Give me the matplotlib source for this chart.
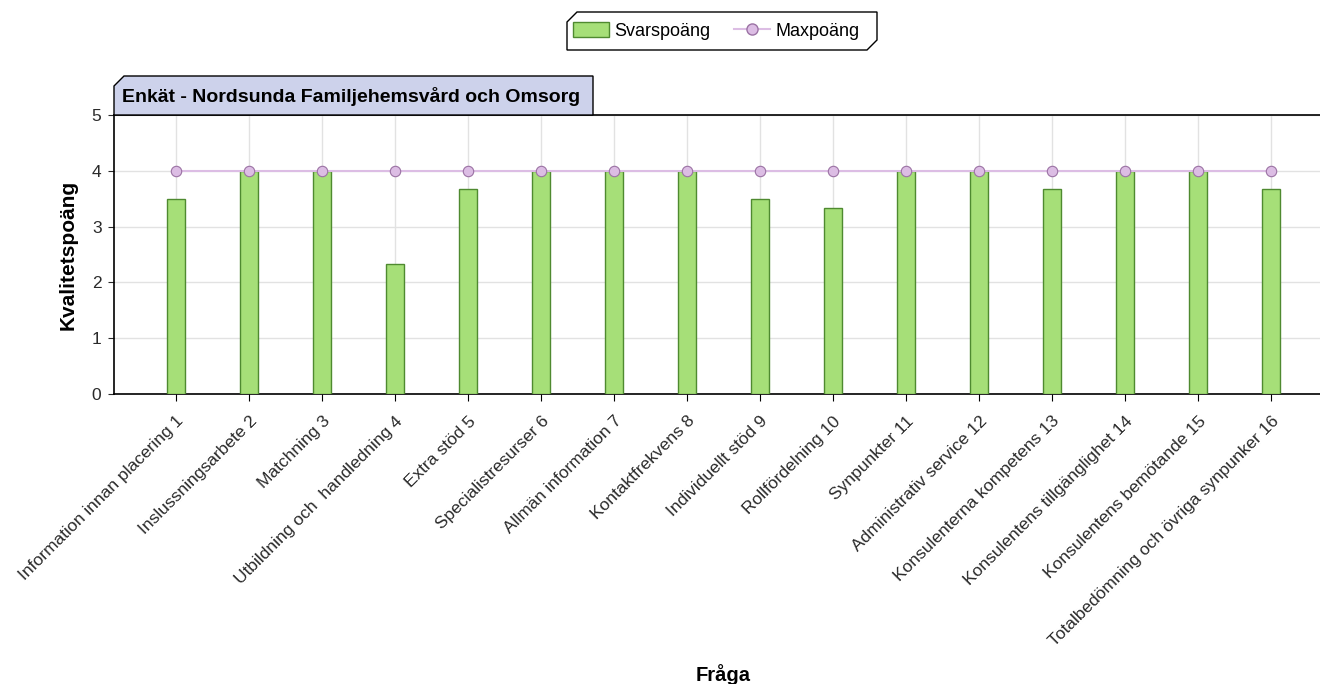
import matplotlib
matplotlib.use("Agg")
import matplotlib.pyplot as plt
from matplotlib.patches import Polygon
from matplotlib.lines import Line2D
from matplotlib.patches import Patch

QUESTIONS = [
    "Information innan placering 1",
    "Inslussningsarbete 2",
    "Matchning 3",
    "Utbildning och  handledning 4",
    "Extra stöd 5",
    "Specialistresurser 6",
    "Allmän information 7",
    "Kontaktfrekvens 8",
    "Individuellt stöd 9",
    "Rollfördelning 10",
    "Synpunkter 11",
    "Administrativ service 12",
    "Konsulenterna kompetens 13",
    "Konsulentens tillgänglighet 14",
    "Konsulentens bemötande 15",
    "Totalbedömning och övriga synpunker 16",
]
SVARSPOANG = [3.5, 4.0, 4.0, 2.33, 3.67, 4.0, 4.0, 4.0, 3.5, 3.33, 4.0, 4.0, 3.67, 4.0, 4.0, 3.67]
MAXPOANG = [4] * 16
Y_TICKS = [0, 1, 2, 3, 4, 5]

W, H = 1320, 684
BAR_FACE = "#a6df78"
BAR_EDGE = "#4f8a30"
LINE_COLOR = "#dcbde4"
MARKER_EDGE = "#9b72a4"

plt.rcParams["font.family"] = ["Liberation Sans", "DejaVu Sans"]

fig = plt.figure(figsize=(W / 100, H / 100), dpi=100)
ax = fig.add_axes([114 / W, 1 - 394 / H, (W - 114) / W + 0.01, (394 - 115) / H])


def px(x, y):
    return (x / W, 1 - y / H)


x = list(range(len(QUESTIONS)))
ax.bar(x, SVARSPOANG, width=0.25, color=BAR_FACE, edgecolor=BAR_EDGE, linewidth=1, zorder=3)
ax.plot(x, MAXPOANG, color=LINE_COLOR, linewidth=1.5, marker="o", markersize=7.5,
        markerfacecolor=LINE_COLOR, markeredgecolor=MARKER_EDGE, markeredgewidth=0.8, zorder=4)

ax.set_xlim(-0.85, 15.85)
ax.set_ylim(0, 5)
ax.set_yticks(Y_TICKS)
ax.set_xticks(x)
ax.set_xticklabels(QUESTIONS, rotation=45, ha="right", rotation_mode="anchor", fontsize=12.5, color="#2a2a2a")
ax.tick_params(axis="y", labelsize=12.5, length=4, pad=5, colors="#2a2a2a")
ax.tick_params(axis="x", length=5, pad=9)
ax.grid(True, color="#e2e2e2", linewidth=1, zorder=0)
ax.set_axisbelow(True)
for side in ["left", "bottom", "top"]:
    ax.spines[side].set_color("#000000")
    ax.spines[side].set_linewidth(1.2)
ax.spines["right"].set_visible(False)

ax.set_ylabel("Kvalitetspoäng", fontsize=15, fontweight="bold")
ax.yaxis.set_label_coords(-(114 - 78) / (W - 114), 0.5)
fig.text(px(723, 675)[0], px(723, 675)[1], "Fråga", fontsize=14.5, fontweight="bold", ha="center", va="center")

# title tab
tab = Polygon([px(114, 115), px(114, 86), px(124, 76), px(593, 76), px(593, 115)],
              closed=True, transform=fig.transFigure, facecolor="#cdd2eb", edgecolor="#000000", linewidth=1)
fig.patches.append(tab)
fig.text(px(122, 97)[0], px(122, 97)[1], "Enkät - Nordsunda Familjehemsvård och Omsorg",
         fontsize=14, fontweight="bold", ha="left", va="center")

# legend box
box = Polygon([px(567, 50), px(567, 22), px(577, 12), px(877, 12), px(877, 40), px(867, 50)],
              closed=True, transform=fig.transFigure, facecolor="white", edgecolor="#000000", linewidth=1)
fig.patches.append(box)
handles = [
    Patch(facecolor=BAR_FACE, edgecolor=BAR_EDGE, label="Svarspoäng"),
    Line2D([0], [0], color=LINE_COLOR, marker="o", markersize=8, markerfacecolor=LINE_COLOR,
           markeredgecolor=MARKER_EDGE, label="Maxpoäng"),
]
fig.legend(handles=handles, loc="center", bbox_to_anchor=px(716, 31), ncol=2, frameon=False,
           fontsize=13, handlelength=2.0, handleheight=0.9, columnspacing=1.3, handletextpad=0.3)

fig.savefig("out.png", dpi=100)
